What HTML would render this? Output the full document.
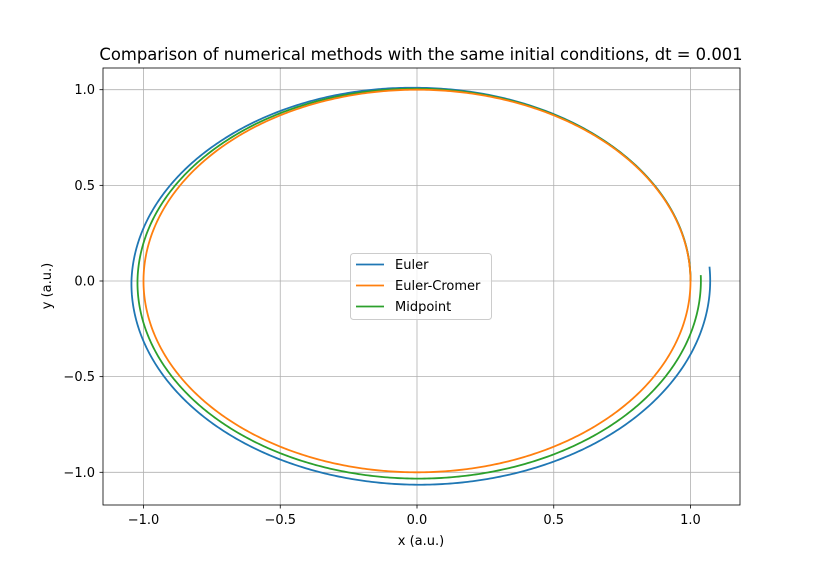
<!DOCTYPE html>
<html><head><meta charset="utf-8"><style>
body{margin:0;background:#fff}
svg{display:block;font-family:"DejaVu Sans","Liberation Sans",sans-serif}
</style></head><body>
<svg id="chart" width="822" height="567" viewBox="0 0 822 567">
<rect width="822" height="567" fill="#fff"/>
<g id="grid"></g>
<g id="series"></g>
<rect x="103" y="68" width="637" height="437" fill="none" stroke="#000" stroke-width="0.8"/>
<g id="ticks" font-size="13"></g>
<text x="421" y="60" text-anchor="middle" font-size="16.4">Comparison of numerical methods with the same initial conditions, dt = 0.001</text>
<text x="421" y="545" text-anchor="middle" font-size="13">x (a.u.)</text>
<text transform="translate(51,286) rotate(-90)" text-anchor="middle" font-size="13">y (a.u.)</text>
<g id="legend">
<rect x="350.5" y="253.5" width="141" height="66" rx="3" fill="#fff" fill-opacity="0.8" stroke="#ccc"/>
</g>
</svg>
<script>
const xTicks=[-1.0,-0.5,0.0,0.5,1.0];
const yTicks=[-1.0,-0.5,0.0,0.5,1.0];
const tickLabels=["\u22121.0","\u22120.5","0.0","0.5","1.0"];
const seriesNames=["Euler","Euler-Cromer","Midpoint"];
const seriesColors=["#1f77b4","#ff7f0e","#2ca02c"];
const eulerAngle=[0,45,90,135,180,225,270,315,360,364];
const eulerRadius=[1.0,1.003,1.01,1.025,1.044,1.055,1.065,1.07,1.072,1.072];
const cromerAngle=[0,90,180,270,360];
const cromerRadius=[1.0,1.0,1.0,1.0,1.0];
const midAngle=[0,45,90,135,180,225,270,315,360,361.7];
const midRadius=[1.0,1.002,1.005,1.012,1.022,1.028,1.033,1.036,1.038,1.038];
const sx=v=>417+v*273.5, sy=v=>281-v*191.3;
const NS="http://www.w3.org/2000/svg";
function mk(tag,attrs,parent){const e=document.createElementNS(NS,tag);for(const k in attrs)e.setAttribute(k,attrs[k]);parent.appendChild(e);return e;}
const grid=document.getElementById('grid'),ticks=document.getElementById('ticks');
xTicks.forEach((v,i)=>{const x=sx(v);
 const g=mk('line',{x1:x,x2:x,y1:68,y2:505,stroke:'#b0b0b0','stroke-width':0.8},grid);
 
 
 mk('line',{x1:x,x2:x,y1:505,y2:508.5,stroke:'#000','stroke-width':0.8},ticks);
 const t=mk('text',{x:x,y:524,'text-anchor':'middle'},ticks);t.textContent=tickLabels[i];
 
 });
yTicks.forEach((v,i)=>{const y=sy(v);
 const g=mk('line',{x1:103,x2:740,y1:y,y2:y,stroke:'#b0b0b0','stroke-width':0.8},grid);
 
 
 mk('line',{x1:99.5,x2:103,y1:y,y2:y,stroke:'#000','stroke-width':0.8},ticks);
 const t=mk('text',{x:95,y:y+4.5,'text-anchor':'end'},ticks);t.textContent=tickLabels[i];
 
 });
function rAt(angles,radii,a){for(let i=0;i<angles.length-1;i++){if(a<=angles[i+1]){const f=(a-angles[i])/(angles[i+1]-angles[i]);return radii[i]+f*(radii[i+1]-radii[i]);}}return radii[radii.length-1];}
function path(angles,radii){const end=angles[angles.length-1];let d='';
 for(let a=0;;a=Math.min(a+0.5,end)){const r=rAt(angles,radii,a),t=a*Math.PI/180;
  d+=(d?' L':'M')+sx(r*Math.cos(t)).toFixed(2)+','+sy(r*Math.sin(t)).toFixed(2);if(a>=end)break;}
 return d;}
const S=document.getElementById('series');
const data=[[eulerAngle,eulerRadius],[cromerAngle,cromerRadius],[midAngle,midRadius]];
const names=['euler-line','euler-cromer-line','midpoint-line'];
const order=[0,2,1];
order.forEach(i=>{const s=data[i];const e=mk('path',{d:path(s[0],s[1]),fill:'none',stroke:seriesColors[i],'stroke-width':1.8},S);
 
 });
const L=document.getElementById('legend');
seriesNames.forEach((n,i)=>{const y=264.5+i*21;
 mk('line',{x1:356,x2:384,y1:y,y2:y,stroke:seriesColors[i],'stroke-width':1.8},L);
 const t=mk('text',{x:395,y:y+4.5,'font-size':13},L);t.textContent=n;
 
 });
</script>
</body></html>
